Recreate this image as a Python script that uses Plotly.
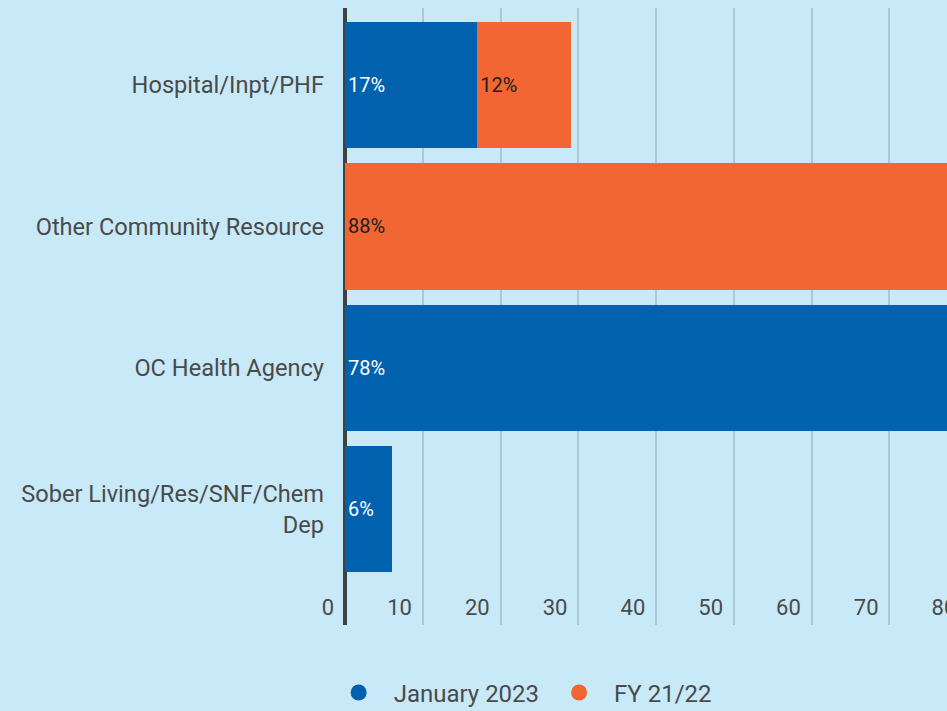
import plotly.graph_objects as go

categories = ["Hospital/Inpt/PHF", "Other Community Resource", "OC Health Agency",
              "Sober Living/Res/SNF/Chem<br>Dep"]
jan_2023 = [17, None, 78, 6]
fy_21_22 = [12, 88, None, None]
series_names = ["January 2023", "FY 21/22"]
x_ticks = [0, 10, 20, 30, 40, 50, 60, 70, 80, 90]
x_tick_labels = ["0", "10", "20", "30", "40", "50", "60", "70", "80", "90"]

BLUE = "#0061ae"
ORANGE = "#f26634"
BG = "#c8e9f8"
TXT = "#4a4a4a"
FONT = "Roboto"
PAD = "\u00a0\u00a0"

fig = go.Figure()
fig.add_trace(go.Bar(
    y=categories, x=jan_2023, orientation="h", name=series_names[0],
    marker=dict(color=BLUE, line=dict(width=0)),
    texttemplate="%{x}%", textposition="inside", insidetextanchor="start",
    textangle=0,
    textfont=dict(color="white", size=20, family=FONT),
    showlegend=False,
))
fig.add_trace(go.Bar(
    y=categories, x=fy_21_22, orientation="h", name=series_names[1],
    marker=dict(color=ORANGE, line=dict(width=0)),
    texttemplate="%{x}%", textposition="inside", insidetextanchor="start",
    textangle=0,
    textfont=dict(color="#1e1e1e", size=20, family=FONT),
    showlegend=False,
))
# legend entries with circular symbols
for name, col in zip(series_names, [BLUE, ORANGE]):
    fig.add_trace(go.Scatter(x=[None], y=[None], mode="markers", name=name,
                             marker=dict(color=col, size=30, symbol="circle")))

fig.update_layout(
    width=1060, height=711,
    barmode="stack", bargap=0.106,
    paper_bgcolor=BG, plot_bgcolor=BG,
    margin=dict(l=314, r=15, t=8, b=86, autoexpand=False),
    font=dict(family=FONT, color=TXT, size=22),
    uniformtext=dict(mode="show", minsize=10),
    legend=dict(orientation="h", x=0.282, xanchor="center",
                y=-0.11, yanchor="middle", font=dict(size=24, color=TXT),
                itemsizing="trace", itemwidth=60, bgcolor="rgba(0,0,0,0)",
                traceorder="normal"),
)
fig.update_xaxes(
    range=[-4, 90], tickvals=x_ticks, ticktext=[t + PAD for t in x_tick_labels],
    showgrid=True, gridcolor="#a9c9d9",
    gridwidth=2, zeroline=True, zerolinecolor="#404040", zerolinewidth=4,
    ticklabelposition="inside left", tickfont=dict(size=22, color=TXT),
    showline=False, fixedrange=True, automargin=False,
)
fig.update_yaxes(
    categoryorder="array", categoryarray=categories, range=[3.82, -0.545],
    showgrid=False, zeroline=False, showline=False, ticks="",
    ticklabelstandoff=-11, tickfont=dict(size=23.6, color=TXT), automargin=False,
    fixedrange=True,
)

fig.write_html("out.html", config={"displayModeBar": False},
               post_script="document.documentElement.style.overflow='hidden';document.body.style.overflow='hidden';document.body.style.margin='0';")
